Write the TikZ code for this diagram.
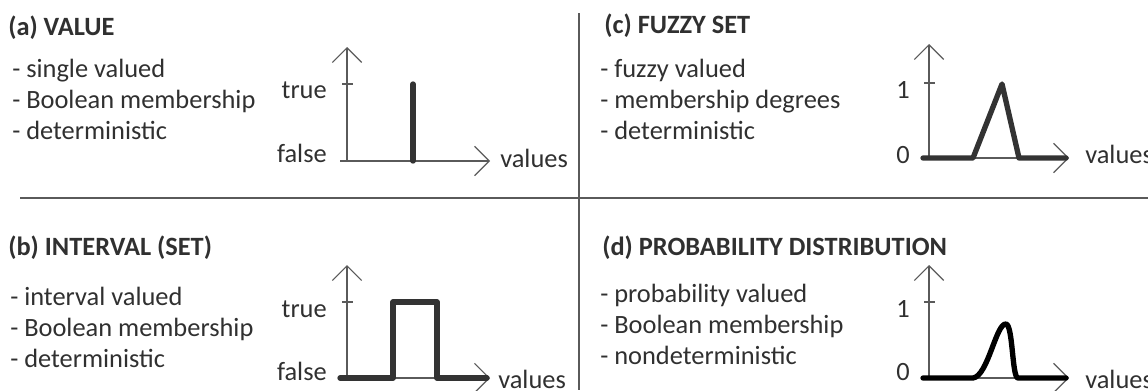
\documentclass[tikz,border=0pt]{standalone}
\usepackage{fontspec}
\setmainfont{Carlito}
\usepackage{xcolor}
\usetikzlibrary{arrows.meta, positioning}
\definecolor{txtgrey}{HTML}{303030}
\definecolor{axgrey}{HTML}{5A5A5A}
\definecolor{curvegrey}{HTML}{333333}
\tikzset{
  % every text in the figure
  every node/.style={
    font=\fontsize{19.8pt}{23pt}\selectfont
    , text=txtgrey
    , inner sep=0pt
  },
  % panel heading
  head/.style={
    anchor=base west
    , font=\fontsize{19.8pt}{23pt}\selectfont\bfseries
  },
  % bullet line
  item/.style={
    anchor=base west
  },
  % axis labels
  ylab/.style={anchor=base east},
  xlab/.style={anchor=base west},
  % thin axis arrows
  axis/.style={
    draw=axgrey
    , line width=0.9pt
  },
  % function graph
  curve/.style={
    draw=curvegrey
    , line width=4pt
    , line cap=round
    , line join=round
  },
  % panel divider
  divider/.style={
    draw=axgrey
    , line width=1pt
  },
}

\begin{document}
\begin{tikzpicture}[x=0.75pt, y=-0.75pt, >={Straight Barb[length=11pt,width=22pt]}]
      \useasboundingbox (0,0) rectangle (1148,390);

      % dividers
      \coordinate (vtop) at (579,13);
      \coordinate (vbot) at (579,390);
      \coordinate (hl) at (20,198);
      \coordinate (hr) at (1148,198);
      \draw[divider] (vtop) -- (vbot);
      \draw[divider] (hl) -- (hr);

      % (a) value
      \node[head] (ha) at (8,35) {(a) VALUE};
      \node[item] (a1) at (12,77) {- single valued};
      \node[item, below=23.5pt of a1.base west, anchor=base west] (a2) {- Boolean membership};
      \node[item, below=23.5pt of a2.base west, anchor=base west] (a3) {- deterministic};
      \coordinate (oa) at (347,161);
      \coordinate (ya) at (347,47);
      \coordinate (xa) at (490,161);
      \draw[axis,->] (oa) -- (ya);
      \draw[axis,->] ([xshift=-5.25pt]oa) -- (xa);
      \draw[axis] (342,84) -- (353,84);
      \node[ylab] (truea) at (327,98) {true};
      \node[ylab] (falsea) at (327,162) {false};
      \node[xlab] (vala) at (500,167) {values};
      \draw[curve] (413,84) -- (413,161);

      % (b) interval
      \node[head] (hb) at (8,255) {(b) INTERVAL (SET)};
      \node[item] (b1) at (10,305) {- interval valued};
      \node[item, below=23.5pt of b1.base west, anchor=base west] (b2) {- Boolean membership};
      \node[item, below=23.5pt of b2.base west, anchor=base west] (b3) {- deterministic};
      \coordinate (ob) at (347,378);
      \coordinate (yb) at (347,265);
      \coordinate (xb) at (490,378);
      \draw[axis,->] (ob) -- (yb);
      \draw[axis,->] ([xshift=-5.25pt]ob) -- (xb);
      \draw[axis] (342,302) -- (353,302);
      \node[ylab] (trueb) at (327,317) {true};
      \node[ylab] (falseb) at (327,380) {false};
      \node[xlab] (valb) at (498,388) {values};
      \draw[curve] (340,378) -- (393,378) -- (393,302) -- (437,302) -- (437,378) -- (487,378);

      % (c) fuzzy set
      \node[head] (hc) at (604,33) {(c) FUZZY SET};
      \node[item] (c1) at (600,77) {- fuzzy valued};
      \node[item, below=23.5pt of c1.base west, anchor=base west] (c2) {- membership degrees};
      \node[item, below=23.5pt of c2.base west, anchor=base west] (c3) {- deterministic};
      \coordinate (oc) at (929,158);
      \coordinate (yc) at (929,44);
      \coordinate (xc) at (1069,158);
      \draw[axis,->] (oc) -- (yc);
      \draw[axis,->] ([xshift=-5.25pt]oc) -- (xc);
      \draw[axis] (924,83) -- (935,83);
      \node[ylab] (onec) at (910,98) {1};
      \node[ylab] (zeroc) at (910,163) {0};
      \node[xlab] (valc) at (1085,163) {values};
      \draw[curve] (923,158) -- (973,158) -- (1002,84) -- (1019,158) -- (1066,158);

      % (d) probability distribution
      \node[head] (hd) at (602,255) {(d) PROBABILITY DISTRIBUTION};
      \node[item] (d1) at (600,302) {- probability valued};
      \node[item, below=23.5pt of d1.base west, anchor=base west] (d2) {- Boolean membership};
      \node[item, below=23.5pt of d2.base west, anchor=base west] (d3) {- nondeterministic};
      \coordinate (od) at (929,378);
      \coordinate (yd) at (929,265);
      \coordinate (xd) at (1069,378);
      \draw[axis,->] (od) -- (yd);
      \draw[axis,->] ([xshift=-5.25pt]od) -- (xd);
      \draw[axis] (924,302) -- (935,302);
      \node[ylab] (oned) at (910,317) {1};
      \node[ylab] (zerod) at (910,380) {0};
      \node[xlab] (vald) at (1085,388) {values};
      \draw[curve,draw=black] (923,378) -- (973,378)
        .. controls (988,376) and (996,323) .. (1006,324)
        .. controls (1013,325) and (1012,378) .. (1018,378) -- (1066,378);
    \end{tikzpicture}
\end{document}
